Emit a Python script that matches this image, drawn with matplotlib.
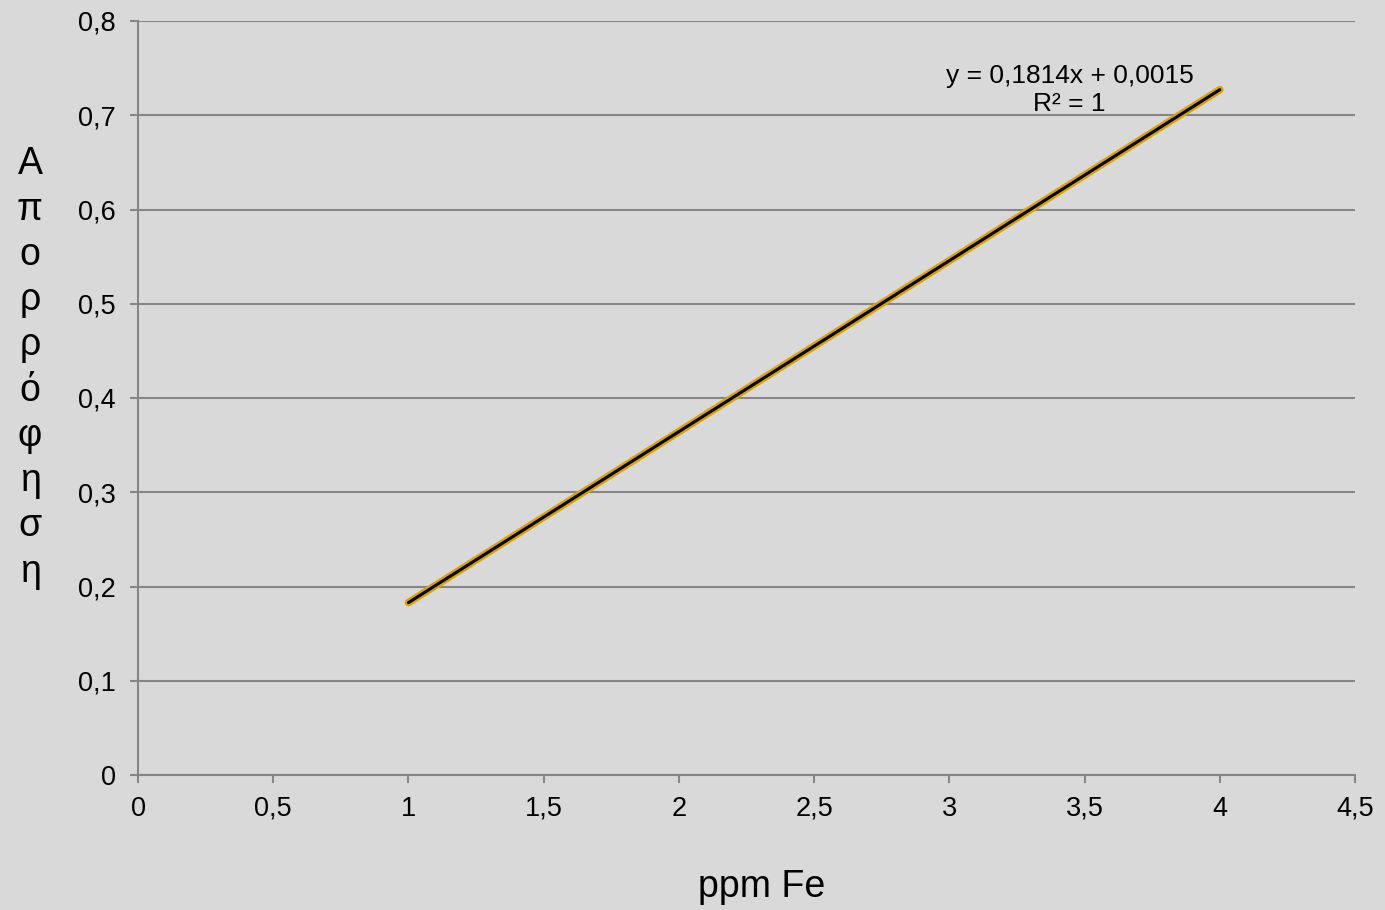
import matplotlib
matplotlib.use("Agg")
import matplotlib.pyplot as plt
import matplotlib.patheffects as pe
from matplotlib.ticker import FuncFormatter

ppm_fe = [1, 2, 3, 4]
absorbance = [0.1829, 0.3643, 0.5457, 0.7271]
equation = "y = 0,1814x + 0,0015"
r2_text = "R² = 1"
xlabel = "ppm Fe"
ylabel = "Απορρόφηση"

plt.rcParams['font.family'] = ['Liberation Sans', 'DejaVu Sans']
bg = '#d9d9d9'
grid_c = '#868686'

fig = plt.figure(figsize=(13.85, 9.10), dpi=100, facecolor=bg)
ax = fig.add_axes([138/1385, 1-775/910, (1355-138)/1385, (775-21)/910])
ax.set_facecolor(bg)

ax.plot(ppm_fe, absorbance, color='black', lw=2.2, solid_capstyle='round',
        path_effects=[pe.Stroke(linewidth=5.5, foreground='#d9a300'), pe.Normal()], zorder=3)

ax.set_xlim(0, 4.5)
ax.set_ylim(0, 0.8)
ax.set_xticks([0, 0.5, 1, 1.5, 2, 2.5, 3, 3.5, 4, 4.5])
ax.set_yticks([0, 0.1, 0.2, 0.3, 0.4, 0.5, 0.6, 0.7, 0.8])
fmt = FuncFormatter(lambda v, p: ('%g' % v).replace('.', ','))
ax.xaxis.set_major_formatter(fmt)
ax.yaxis.set_major_formatter(fmt)
ax.yaxis.grid(True, color=grid_c, lw=1.5)
ax.set_axisbelow(True)
for s in ['top', 'right']:
    ax.spines[s].set_visible(False)
for s in ['left', 'bottom']:
    ax.spines[s].set_color(grid_c)
    ax.spines[s].set_linewidth(1.5)
ax.tick_params(axis='both', colors=grid_c, labelcolor='black', labelsize=19.5,
               length=6, width=1.5, direction='out')
ax.tick_params(axis='y', pad=10)
ax.tick_params(axis='x', pad=9)

fig.text(1070/1385, 1-76/910, equation, fontsize=19, ha='center', va='center')
fig.text(1069/1385, 1-104/910, r2_text, fontsize=19, ha='center', va='center')

fig.text(762/1385, 1-887/910, xlabel, fontsize=27, ha='center', va='center')
fig.text(30/1385, 1-368/910, "\n".join(ylabel), fontsize=27, ha='center', va='center',
         linespacing=1.33)

fig.savefig('out.png', dpi=100, facecolor=bg)
